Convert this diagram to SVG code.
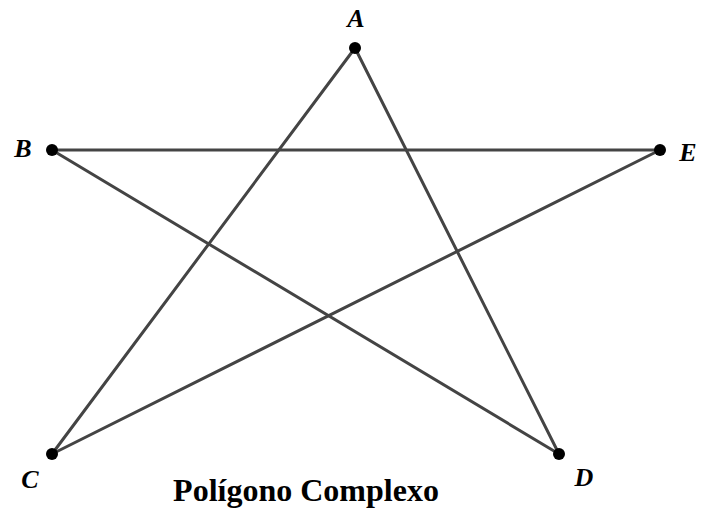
<svg xmlns="http://www.w3.org/2000/svg" width="709" height="508" viewBox="0 0 709 508">
<style>
.edge{stroke:#444;stroke-width:3;fill:none;stroke-linecap:round}
.pt{fill:#000}
.lbl{font-family:"Liberation Serif",serif;font-style:italic;font-weight:bold;font-size:26px;fill:#000}
.title{font-family:"Liberation Serif",serif;font-weight:bold;font-size:32px;fill:#000}
</style>
<rect width="709" height="508" fill="#fff"/>
<g id="connectors">
<line class="edge" x1="355" y1="48" x2="52" y2="454"/>
<line class="edge" x1="355" y1="48" x2="559" y2="454"/>
<line class="edge" x1="52" y1="150" x2="660" y2="150"/>
<line class="edge" x1="52" y1="150" x2="559" y2="454"/>
<line class="edge" x1="660" y1="150" x2="52" y2="454"/>
</g>
<g id="A"><circle class="pt" cx="355" cy="48" r="6"/><text class="lbl" x="356" y="27" text-anchor="middle">A</text></g>
<g id="B"><circle class="pt" cx="52" cy="150" r="6"/><text class="lbl" x="23" y="157" text-anchor="middle">B</text></g>
<g id="E"><circle class="pt" cx="660" cy="150" r="6"/><text class="lbl" x="688" y="161" text-anchor="middle">E</text></g>
<g id="C"><circle class="pt" cx="52" cy="454" r="6"/><text class="lbl" x="30" y="488" text-anchor="middle">C</text></g>
<g id="D"><circle class="pt" cx="559" cy="454" r="6"/><text class="lbl" x="584" y="486" text-anchor="middle">D</text></g>
<text class="title" x="306" y="501" text-anchor="middle">Polígono Complexo</text>
</svg>
